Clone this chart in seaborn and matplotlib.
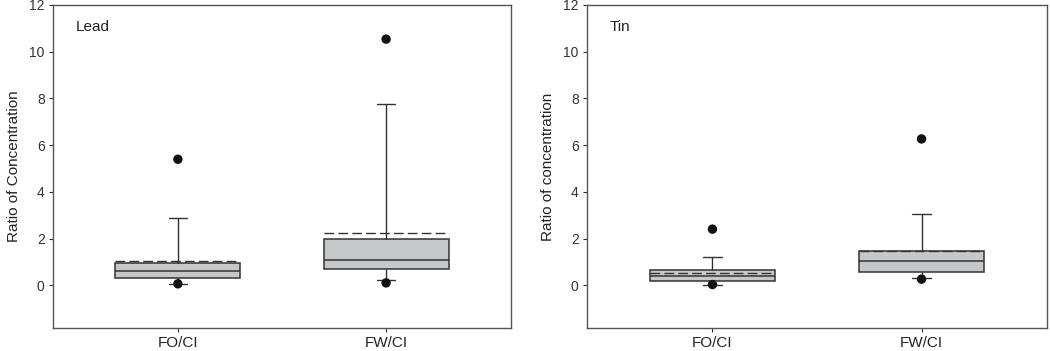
import numpy as np
import pandas as pd
import matplotlib
matplotlib.use("Agg")
import matplotlib.pyplot as plt
import seaborn as sns

# box summary values (ratio of concentration)
groups = ["FO/CI", "FW/CI"]
panels = ["Lead", "Tin"]
ylabels = ["Ratio of Concentration", "Ratio of concentration"]

lead_q1 = [0.31, 0.70]
lead_med = [0.63, 1.08]
lead_q3 = [0.95, 2.00]
lead_mean = [1.05, 2.25]
lead_whislo = [0.07, 0.23]
lead_whishi = [2.90, 7.76]
lead_p5 = [0.07, 0.11]
lead_p95 = [5.40, 10.54]

tin_q1 = [0.20, 0.57]
tin_med = [0.39, 1.06]
tin_q3 = [0.66, 1.47]
tin_mean = [0.53, 1.47]
tin_whislo = [0.03, 0.31]
tin_whishi = [1.20, 3.07]
tin_p5 = [0.04, 0.27]
tin_p95 = [2.41, 6.27]

yticks = [0, 2, 4, 6, 8, 10, 12]

sns.set_theme(style="white")
plt.rcParams["font.family"] = ["Liberation Sans", "DejaVu Sans"]

edge = "#333333"
fill = "#c6c7c9"

fig = plt.figure(figsize=(10.5, 3.51), dpi=100)
ax1 = fig.add_axes([53 / 1050, 23 / 351, 458 / 1050, 323 / 351])
ax2 = fig.add_axes([587 / 1050, 23 / 351, 460 / 1050, 323 / 351])


def make_stats(q1, med, q3, mean, lo, hi):
    stats = []
    for i in range(len(groups)):
        stats.append({"label": groups[i], "q1": q1[i], "med": med[i], "q3": q3[i],
                      "mean": mean[i], "whislo": lo[i], "whishi": hi[i], "fliers": []})
    return stats


data = [
    (ax1, make_stats(lead_q1, lead_med, lead_q3, lead_mean, lead_whislo, lead_whishi), lead_p5, lead_p95),
    (ax2, make_stats(tin_q1, tin_med, tin_q3, tin_mean, tin_whislo, tin_whishi), tin_p5, tin_p95),
]

for k, (ax, stats, p5, p95) in enumerate(data):
    ax.bxp(stats, positions=[0, 1], widths=0.6, capwidths=0.09,
           patch_artist=True, showmeans=True, meanline=True,
           boxprops=dict(facecolor=fill, edgecolor=edge, linewidth=1.1),
           medianprops=dict(color=edge, linewidth=1.1),
           whiskerprops=dict(color=edge, linewidth=1.0),
           capprops=dict(color=edge, linewidth=1.0),
           meanprops=dict(color=edge, linestyle=(0, (7, 3)), linewidth=1.0))

    pts = pd.DataFrame({"group": [0, 1, 0, 1], "value": list(p5) + list(p95)})
    sns.scatterplot(data=pts, x="group", y="value", ax=ax, color="#111111",
                    s=46, edgecolor="none", zorder=5)

    ax.set_xlim(-0.6, 1.6)
    ax.set_ylim(-1.82, 12)
    ax.set_yticks(yticks)
    ax.set_yticklabels([str(t) for t in yticks], fontsize=10, color="#333333")
    ax.set_xticks([0, 1])
    ax.set_xticklabels(groups, fontsize=11, color="#222222")
    ax.set_xlabel("")
    ax.set_ylabel(ylabels[k], fontsize=11, color="#222222", labelpad=6)
    ax.tick_params(axis="both", which="both", direction="out", length=3,
                   width=0.8, color=edge, left=True, bottom=True, pad=3)
    for sp in ax.spines.values():
        sp.set_color("#555555")
        sp.set_linewidth(1.0)
    ax.text(0.05, 0.955, panels[k], transform=ax.transAxes, fontsize=11,
            color="#222222", va="top", ha="left")

fig.savefig("out.png", dpi=100)
